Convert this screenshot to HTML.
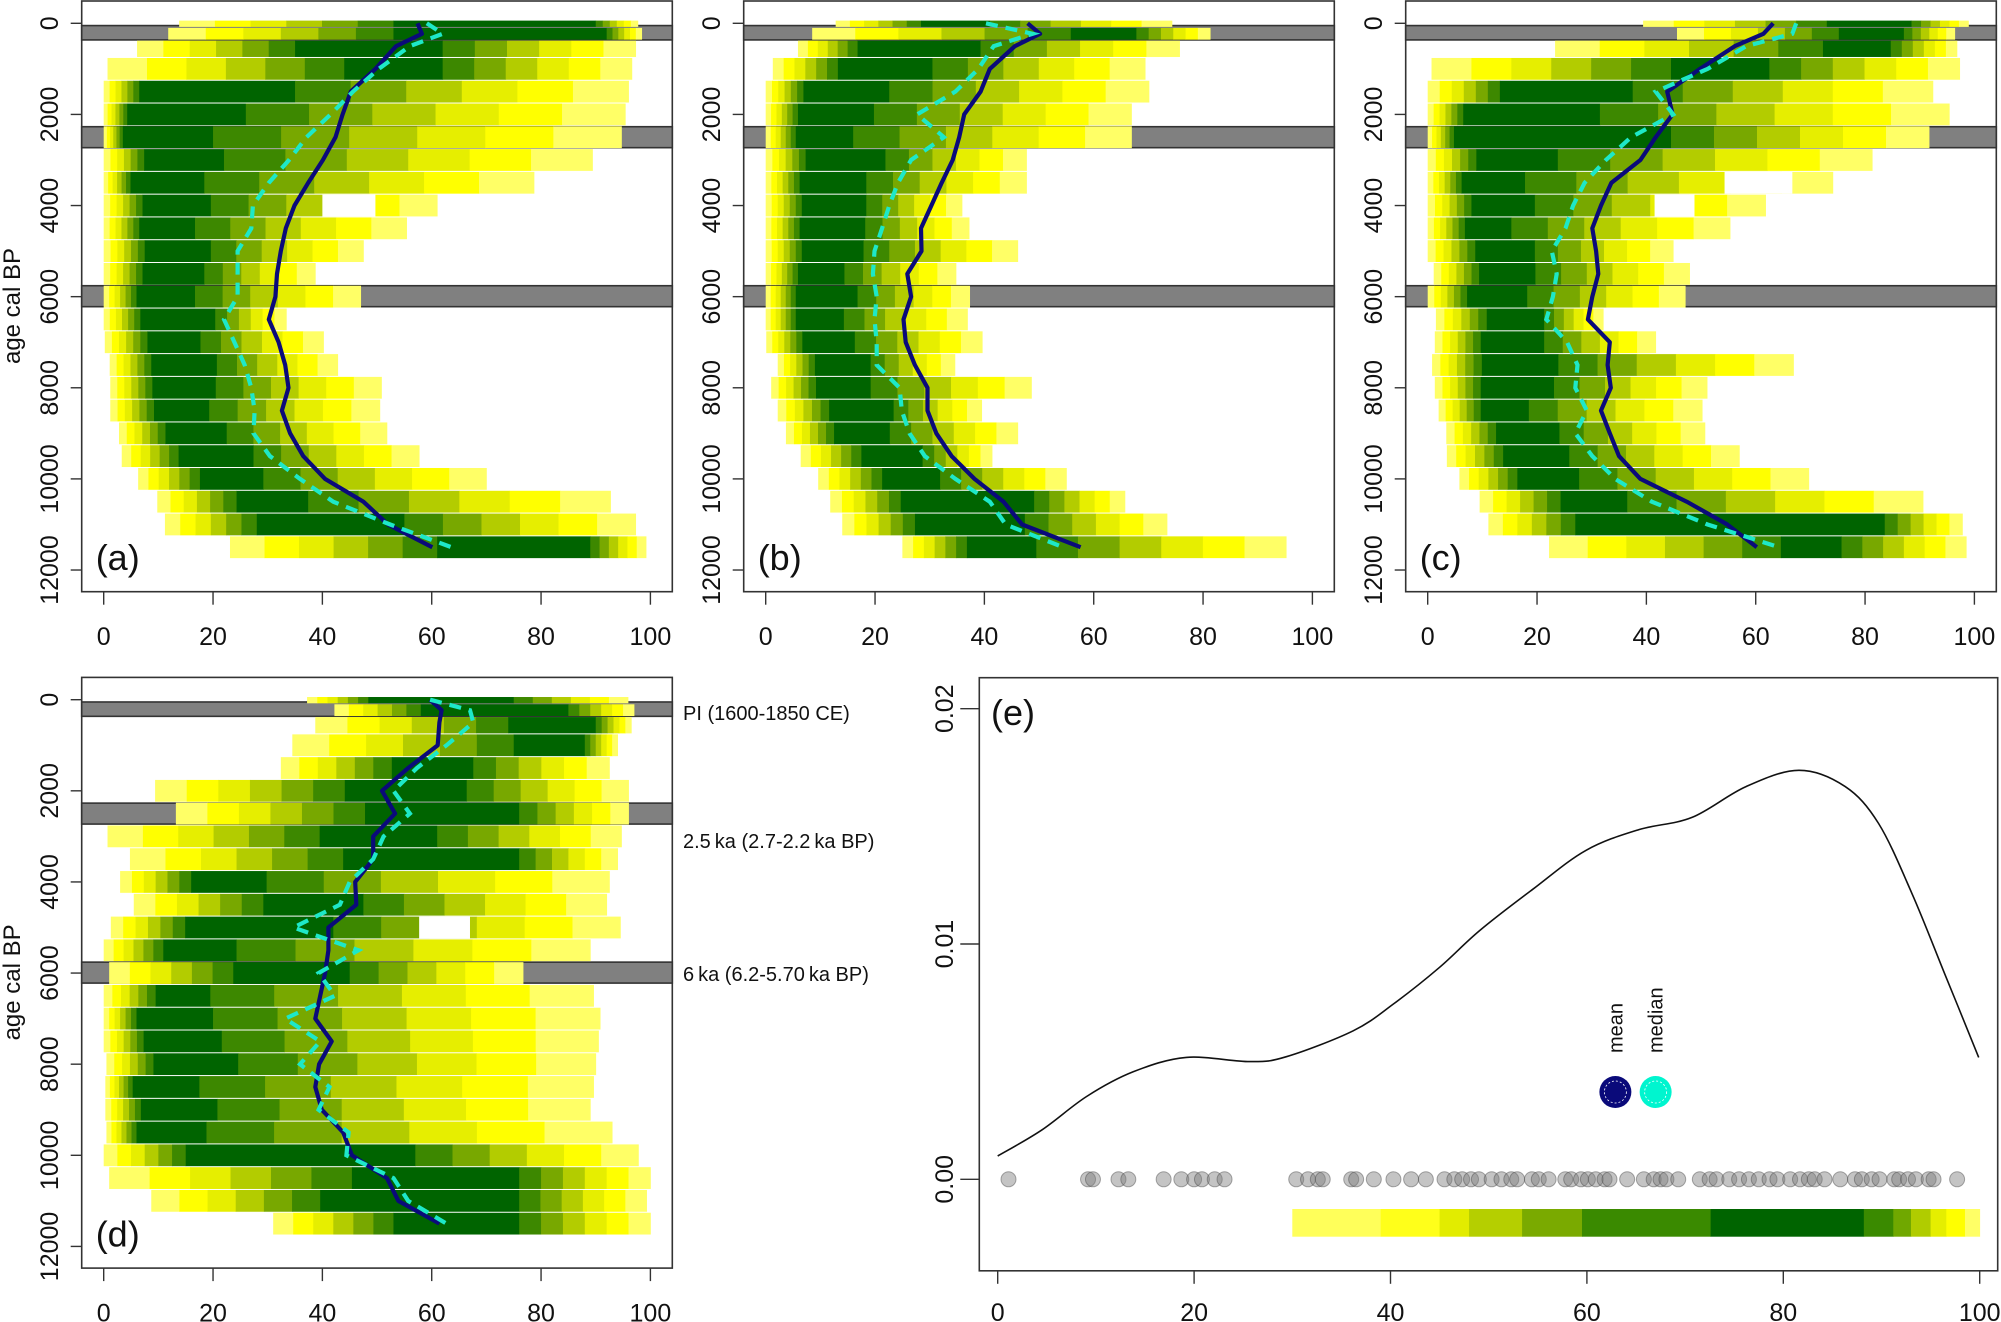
<!DOCTYPE html>
<html><head><meta charset="utf-8"><title>Chart</title>
<style>
html,body{margin:0;padding:0;background:#fff;}
svg{display:block;font-family:"Liberation Sans",Arial,sans-serif;}
</style></head>
<body>
<svg id="fig" xmlns="http://www.w3.org/2000/svg" width="2001" height="1322" viewBox="0 0 2001 1322"></svg>
<script>
// ---------- data ----------
var lineAges = [0,230,500,1000,1500,2000,2500,3000,3500,4000,4500,5000,5500,6000,6500,7000,7500,8000,8500,9000,9500,10000,10500,11000,11500];
var rowEdges = [-70,90,370,750,1250,1750,2250,2750,3250,3750,4250,4750,5250,5750,6250,6750,7250,7750,8250,8750,9250,9750,10250,10750,11250,11750];
var bandAges = [[50,365],[2270,2730],[5760,6220]];
var tickAges = [0,2000,4000,6000,8000,10000,12000];
var tickVals = [0,20,40,60,80,100];

var rowsA = [[13.8,97.7,53,90],[11.8,98.4,53,92],[6.1,97.3,35,62],[0.7,96.6,44,62],[0,96,6.5,35],[0,95.4,4.3,26],[0,94.7,3.5,20],[0,89.4,7.4,22],[0,78.7,4.9,18.4],[0,61,7.1,19.6],[0,55.4,6.5,16.7],[0,47.5,7.5,19.6],[0,38.7,7.1,18.4],[0,47,6,16.7],[0,33.4,6.7,20.4],[0.2,40.2,8,17.7],[1.1,42.8,8.7,20.7],[1.2,50.8,8.9,20.5],[1.2,50.5,9.2,19.3],[2.8,51.8,11.3,22.5],[3.3,57.7,13.7,27.4],[6.3,70,17.6,29.2],[9.8,92.7,24.3,37.4],[11.2,97.3,28,55],[23.1,99.2,61,89]];
var meanA = [57.4,58.2,53.5,49.7,45.2,43.7,42.4,40.1,37.4,34.9,33.3,32.4,31.7,31.4,30.2,32,33.2,33.8,32.6,34.1,36.5,40.5,47.5,52,60.1];
var medianA = [59.1,62,56,50.3,45.6,41.5,37.1,33.9,30.2,27.3,27,24.5,24.5,24.5,22,23.9,25.8,27,27.6,27.4,30.4,35.9,42,52.4,63.6];

var rowsB = [[12.8,74.3,28.4,41],[8.5,81.3,55.8,67.8],[5.9,75.7,16.8,39.3],[1.3,69.4,13.2,30.5],[0,70.1,6.9,22.6],[0,66.9,5.9,19.8],[0,66.9,5.5,16],[0,47.7,7.3,21.9],[0,47.7,6.2,18.4],[0,35.9,6.6,18.4],[0,37.2,6.2,18.2],[0,46.1,6.6,17.9],[0,34.8,5.9,14.4],[0,37.3,5.5,16.8],[0,36.9,5.5,14.3],[0.1,39.6,6.7,16.3],[2.2,34.6,9,19.2],[1,48.6,9.2,19.2],[2.2,39.5,11.6,23.4],[3.7,46.1,12.5,22.7],[6.4,41.4,17.5,28.7],[9.6,55,21.3,31.9],[11.8,65.7,24.7,49.1],[14,73.4,27.3,47.4],[25,95.2,36.8,49.5]];
var meanB = [47.9,50.2,45.6,41,39.3,36.3,35.4,34.2,32.2,30.3,28.4,28.5,25.9,26.6,25.2,25.6,27.3,29.6,29.6,31.2,34,38.2,43.5,46.9,57.6];
var medianB = [40.3,48.8,41.7,38.9,34.7,27.7,32.6,26.6,24.2,22.6,21.3,19.9,19.6,20.3,19.9,20.3,20.3,24.5,24.9,26.3,29.1,34.7,41,43.9,54.4];

var rowsC = [[39.4,98.9,73,88.5],[45.6,96.4,75.2,87.1],[23.3,96.8,72.3,84.7],[0.7,97.3,44.5,62.5],[0,92.4,13.2,37.5],[0,95.4,6.5,31.5],[0,91.7,4.8,44.5],[0,81.3,8.9,23.8],[0,74.1,6.2,17.8],[0,61.8,8,19.6],[0,55.3,6.8,15.3],[0,44.9,8.7,19.6],[1.1,47.9,9.4,19.7],[0,47.1,7.2,18.2],[1.5,32.1,10.8,21.3],[1.3,41.7,9.7,21.3],[0.8,66.9,9.9,23.9],[1.3,51.1,9.7,23.1],[2,50.2,9.7,18.5],[3.4,50.7,12.5,24.1],[3.5,57,13.8,25.9],[5.8,69.7,16.4,27.7],[9.5,90.6,24.3,36.5],[11.1,97.8,27,83.6],[22.2,98.5,64.6,75.7]];
var meanC = [63.2,61.4,56.2,49.8,43.8,44.8,41.7,38.9,33.6,31.7,30.1,30.8,31.2,30.1,29.3,33.3,32.9,33.5,31.7,33.3,35,38.9,47.4,54.8,60.2];
var medianC = [67.4,66.7,58.3,51.2,41.7,44.9,37.2,32.6,28.7,26.6,25.2,22.7,23.6,22.9,21.7,25.5,27.4,27,29.1,27,30.1,34.3,41,51.2,64.3];

var rowsD = [[37.2,95.9,48.4,75],[42.2,97,58,85],[38.7,96.5,74,90],[34.5,94,75,88],[32.4,92.5,52.7,67.6],[9.4,96,44.1,66.4],[13.2,96,47.8,76],[0.7,94.7,39.5,61],[4.8,94,43.8,76],[3,92.5,16,29.8],[5.5,92,29.2,47.5],[1.3,94.5,14.9,42],[0,89,10.9,24.3],[1,76.7,23.7,45],[0,89.6,9.5,19.5],[0,90.8,6,20],[0,90.5,7.3,21.6],[0.5,90,9.1,24.6],[0.3,89.6,5.3,17.5],[0.3,89,6.8,20.8],[0.5,93,6,18.8],[0,97.8,15,57],[1,100,45.4,76],[8.7,99.3,39.6,76],[31,100,53,76]];
var meanD = [59.7,61.8,61.4,61.1,55.7,50.9,53.3,49.3,49.3,46,46.2,41.1,41.1,40.5,39.6,38.7,41.7,39.4,38.7,39.9,43.8,45.4,51.8,53.9,61.4];
var medianD = [59.7,67,67.6,62.7,57.3,53,56,51.2,49.3,45,43.2,34.7,46.6,39.3,42.3,33.2,39.6,35.9,41.3,39.3,44.8,44.4,53,55.7,62.7];

// gaps: [panel, row, from, to]
var gaps = [[0,9,40,49.7],[2,8,54.3,66.7],[2,9,41.5,48.8],[3,11,57.7,67]];

// panel e
var densX = [0,4.5,9.05,13.8,19.2,25.7,29.4,36.2,40.3,45,49.1,54.5,59.9,65.3,70.7,76.2,81.6,86.3,89.7,93.1,96.5,99.9];
var densY = [0.00099,0.0021,0.00352,0.00457,0.00518,0.005,0.00521,0.00631,0.00745,0.00901,0.01058,0.01233,0.01398,0.01486,0.01538,0.01669,0.01738,0.01669,0.01512,0.01215,0.00867,0.00518];
var siteVals = [1.1,9.2,9.7,12.3,13.3,16.9,18.7,20,20.8,22.1,23.1,30.4,31.6,32.6,33.1,36,36.5,38.3,40.3,42.1,43.6,45.5,46.5,47.3,48.2,49,50.3,51.3,52.3,52.9,54.4,55.1,56.1,57.8,58.4,59.4,60.1,60.9,61.8,62.3,64.1,65.8,66.8,67.5,68.1,69.3,71.5,72.5,73.2,74.5,75.5,76.5,77.5,78.6,79.4,80.7,81.7,82.6,83.2,84.2,85.8,87.3,88,89,89.8,91.3,91.8,92.7,93.5,94.8,95.3,97.7];
var statVals = [62.9,67];
var statNames = ["mean","median"];
var barStopVals = [30,39,45,48,53.4,59.5,72.6,88.2,91.2,93,95,96.6,98.5,100];
var barStopCols = ["#ffff5a","#ffff1a","#e2ec00","#b5cf00","#7aaa00","#3a8a00","#006400","#3a8a00","#70a800","#b0cc00","#e5ee00","#ffff00","#ffff66"];
var eYTicks = [0,0.01,0.02];
var eYTickLabels = ["0.00","0.01","0.02"];
</script>
<script>
var NS = "http://www.w3.org/2000/svg";
var svg = document.getElementById("fig");
function mk(tag, attrs, parent){
  var e = document.createElementNS(NS, tag);
  for (var k in attrs) e.setAttribute(k, attrs[k]);
  (parent || svg).appendChild(e);
  return e;
}
var LCOL = ["#ffff66","#ffff00","#e6ee00","#b3cc00","#78a800","#3d8800"];
var CORE = "#006400";

var panels = [
  {key:"a", rows:rowsA, mean:meanA, median:medianA, dx:0, dy:0, ylab:true},
  {key:"b", rows:rowsB, mean:meanB, median:medianB, dx:662, dy:0, ylab:false},
  {key:"c", rows:rowsC, mean:meanC, median:medianC, dx:1324, dy:0, ylab:false},
  {key:"d", rows:rowsD, mean:meanD, median:medianD, dx:0, dy:676.4, ylab:true}
];

panels.forEach(function(P, pi){
  var boxL = 81.7 + P.dx, boxR = boxL + 590.6, boxT = 1 + P.dy, boxB = 591.7 + P.dy;
  var x0 = 103.7 + P.dx, kx = 5.467, y0 = 23.3 + P.dy, ky = 0.04556;
  function X(v){ return x0 + v * kx; }
  function Y(a){ return y0 + a * ky; }
  var g = mk("g", {});
  
  

  // grey reference bands
  bandAges.forEach(function(b, bi){
    var r = mk("rect", {x:boxL, y:Y(b[0]), width:boxR-boxL, height:Y(b[1])-Y(b[0]), fill:"#808080", stroke:"#333", "stroke-width":1.6}, g);
    
    
  });

  // rows
  P.rows.forEach(function(R, ri){
    var yt = Y(rowEdges[ri]) + 0.5, yb = Y(rowEdges[ri+1]) - 0.5, h = yb - yt;
    var rg = mk("g", {}, g);
    
    
    var lo = R[0], hi = R[1], cl = R[2], ch = R[3];
    var n = LCOL.length, i, a, b;
    for (i = 0; i < n; i++){
      a = lo + (cl - lo) * i / n; b = lo + (cl - lo) * (i + 1) / n;
      mk("rect", {x:X(a), y:yt, width:Math.max(0, X(b)-X(a)+0.4), height:h, fill:LCOL[i]}, rg);
    }
    mk("rect", {x:X(cl), y:yt, width:Math.max(0, X(ch)-X(cl)+0.4), height:h, fill:CORE}, rg);
    for (i = 0; i < n; i++){
      a = ch + (hi - ch) * i / n; b = ch + (hi - ch) * (i + 1) / n;
      mk("rect", {x:X(a), y:yt, width:Math.max(0, X(b)-X(a)+0.4), height:h, fill:LCOL[n-1-i]}, rg);
    }
  });
  gaps.forEach(function(G){
    if (G[0] !== pi) return;
    var yt = Y(rowEdges[G[1]]) + 0.5, yb = Y(rowEdges[G[1]+1]) - 0.5;
    var w = mk("rect", {x:X(G[2]), y:yt, width:X(G[3])-X(G[2]), height:yb-yt, fill:"#fff"}, g);
    
    
  });

  // lines
  function pts(arr){ return arr.map(function(v, i){ return X(v).toFixed(1) + "," + Y(lineAges[i]).toFixed(1); }).join(" "); }
  var ml = mk("polyline", {points:pts(P.mean), fill:"none", stroke:"#0a0a7a", "stroke-width":4.2, "stroke-linejoin":"round"}, g);
  
  
  var dl = mk("polyline", {points:pts(P.median), fill:"none", stroke:"#1ee8c8", "stroke-width":4.2, "stroke-dasharray":"12 8"}, g);
  
  

  // box
  var bx = mk("rect", {x:boxL, y:boxT, width:boxR-boxL, height:boxB-boxT, fill:"none", stroke:"#333", "stroke-width":1.6}, g);
  
  

  // y ticks
  tickAges.forEach(function(t){
    mk("line", {x1:boxL-11, x2:boxL, y1:Y(t), y2:Y(t), stroke:"#333", "stroke-width":1.4}, g);
    var tx = mk("text", {x:boxL-23.5, y:Y(t), "font-size":25, "text-anchor":"middle", fill:"#111", transform:"rotate(-90 " + (boxL-23.5) + " " + Y(t) + ")"}, g);
    
    
    tx.textContent = String(t);
  });
  // x ticks
  tickVals.forEach(function(v){
    mk("line", {x1:X(v), x2:X(v), y1:boxB, y2:boxB+13, stroke:"#333", "stroke-width":1.4}, g);
    var tx = mk("text", {x:X(v), y:645 + P.dy, "font-size":25, "text-anchor":"middle", fill:"#111"}, g);
    
    
    tx.textContent = String(v);
  });
  if (P.ylab){
    var yl = mk("text", {x:20, y:306 + P.dy, "font-size":24, "text-anchor":"middle", fill:"#111", transform:"rotate(-90 20 " + (306 + P.dy) + ")"}, g);
    
    
    yl.textContent = "age cal BP";
  }
  var pl = mk("text", {x:boxL + 14, y:570 + P.dy, "font-size":36, fill:"#111"}, g);
  
  
  pl.textContent = "(" + P.key + ")";
});

// band annotations next to panel d
var annTexts = ["PI (1600-1850 CE)","2.5\u2009ka (2.7-2.2\u2009ka BP)","6\u2009ka (6.2-5.70\u2009ka BP)"];
var annY = [720, 848, 981];
annTexts.forEach(function(t, i){
  var e = mk("text", {x:683, y:annY[i], "font-size":20, fill:"#111"});
  
  
  e.textContent = t;
});

// ---------- panel e ----------
(function(){
  var L = 979.3, R = 1997.7, T = 677.7, B = 1270.8;
  function EX(v){ return 997.7 + v * 9.82; }
  function EY(d){ return 1179.3 - d * 23530; }
  var g = mk("g", {});
  
  

  // colour bar
  for (var i = 0; i < barStopCols.length; i++){
    var r = mk("rect", {x:EX(barStopVals[i]), y:1209, width:EX(barStopVals[i+1]) - EX(barStopVals[i]) + 0.4, height:27.7, fill:barStopCols[i]}, g);
    
    
  }
  // site dots
  siteVals.forEach(function(v){
    var c = mk("circle", {cx:EX(v), cy:EY(0), r:7.5, fill:"rgba(125,125,125,0.45)", stroke:"rgba(70,70,70,0.45)", "stroke-width":1}, g);
    
    
  });
  // density curve (Catmull-Rom)
  var P = densX.map(function(v, i){ return [EX(v), EY(densY[i])]; });
  var d = "M" + P[0][0].toFixed(1) + "," + P[0][1].toFixed(1);
  for (var k = 0; k < P.length - 1; k++){
    var p0 = P[Math.max(0, k-1)], p1 = P[k], p2 = P[k+1], p3 = P[Math.min(P.length-1, k+2)];
    var c1x = p1[0] + (p2[0]-p0[0])/6, c1y = p1[1] + (p2[1]-p0[1])/6;
    var c2x = p2[0] - (p3[0]-p1[0])/6, c2y = p2[1] - (p3[1]-p1[1])/6;
    d += " C" + c1x.toFixed(1) + "," + c1y.toFixed(1) + " " + c2x.toFixed(1) + "," + c2y.toFixed(1) + " " + p2[0].toFixed(1) + "," + p2[1].toFixed(1);
  }
  var dc = mk("path", {d:d, fill:"none", stroke:"#111", "stroke-width":1.6}, g);
  
  

  // mean / median markers
  var cols = ["#0a0a7a", "#00f5cf"];
  statVals.forEach(function(v, i){
    var c = mk("circle", {cx:EX(v), cy:1092, r:16, fill:cols[i]}, g);
    
    
    mk("circle", {cx:EX(v), cy:1092, r:11, fill:"none", stroke:"#fff", "stroke-width":0.8, "stroke-dasharray":"2 2"}, g);
    var t = mk("text", {x:EX(v) + 7, y:1053, "font-size":20, fill:"#111", transform:"rotate(-90 " + (EX(v) + 7) + " 1053)"}, g);
    
    
    t.textContent = statNames[i];
  });

  var bx = mk("rect", {x:L, y:T, width:R-L, height:B-T, fill:"none", stroke:"#333", "stroke-width":1.6}, g);
  
  

  eYTicks.forEach(function(t, i){
    mk("line", {x1:L-19, x2:L, y1:EY(t), y2:EY(t), stroke:"#333", "stroke-width":1.4}, g);
    var tx = mk("text", {x:953, y:EY(t), "font-size":25, "text-anchor":"middle", fill:"#111", transform:"rotate(-90 953 " + EY(t) + ")"}, g);
    
    
    tx.textContent = eYTickLabels[i];
  });
  tickVals.forEach(function(v){
    mk("line", {x1:EX(v), x2:EX(v), y1:B, y2:B+13, stroke:"#333", "stroke-width":1.4}, g);
    var tx = mk("text", {x:EX(v), y:1321, "font-size":25, "text-anchor":"middle", fill:"#111"}, g);
    
    
    tx.textContent = String(v);
  });
  var pl = mk("text", {x:991, y:725, "font-size":36, fill:"#111"}, g);
  
  
  pl.textContent = "(e)";
})();
</script>
</body></html>
